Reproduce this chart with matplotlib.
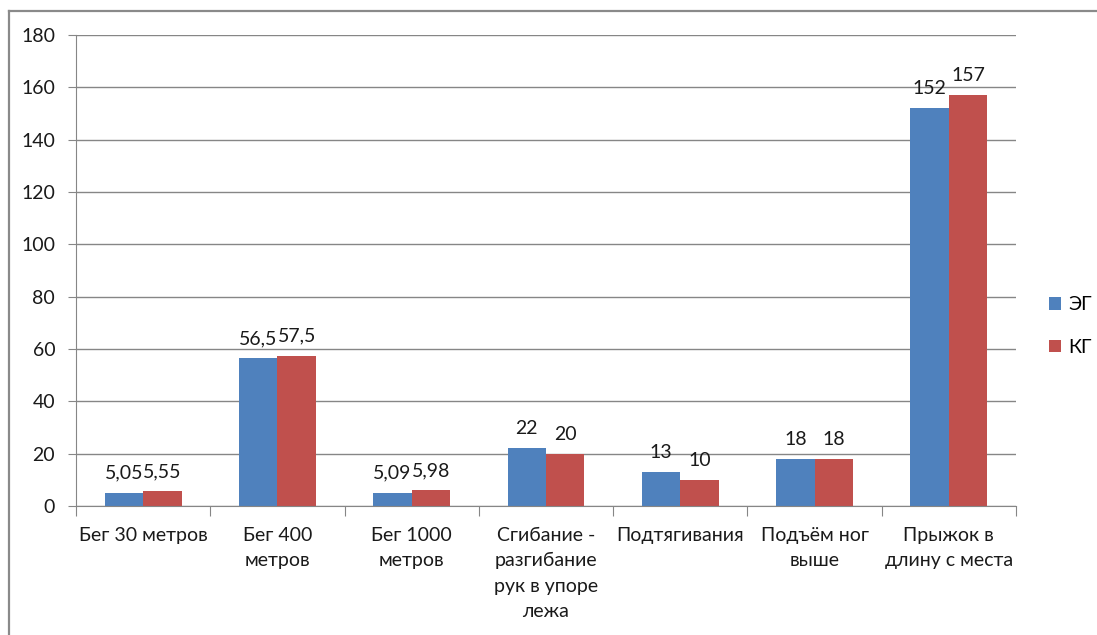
import matplotlib
matplotlib.use("Agg")
import matplotlib.pyplot as plt
from matplotlib.lines import Line2D
import numpy as np

plt.rcParams['font.family'] = ['Lato', 'DejaVu Sans']

categories = ["Бег 30 метров", "Бег 400\nметров", "Бег 1000\nметров",
              "Сгибание -\nразгибание\nрук в упоре\nлежа", "Подтягивания",
              "Подъём ног\nвыше", "Прыжок в\nдлину с места"]
eg = [5.05, 56.5, 5.09, 22, 13, 18, 152]
kg = [5.55, 57.5, 5.98, 20, 10, 18, 157]
eg_labels = ["5,05", "56,5", "5,09", "22", "13", "18", "152"]
kg_labels = ["5,55", "57,5", "5,98", "20", "10", "18", "157"]
series_names = ["ЭГ", "КГ"]
yticks = list(range(0, 181, 20))

blue = "#4F81BD"
red = "#C0504D"
grid_c = "#868686"
txt_c = "#1a1a1a"
fs = 14

fig = plt.figure(figsize=(10.97, 6.35), dpi=100)
ax = fig.add_axes([76/1097, 1-506/635, (1016-76)/1097, (506-35)/635])

x = np.arange(len(categories))
w = 0.286
b1 = ax.bar(x - w/2, eg, w, color=blue, label=series_names[0])
b2 = ax.bar(x + w/2, kg, w, color=red, label=series_names[1])

for rect, lab in zip(b1, eg_labels):
    ax.annotate(lab, (rect.get_x() + rect.get_width()/2, rect.get_height()),
                xytext=(0, 11), textcoords="offset pixels", ha="center", va="bottom",
                fontsize=fs, color=txt_c)
for rect, lab in zip(b2, kg_labels):
    ax.annotate(lab, (rect.get_x() + rect.get_width()/2, rect.get_height()),
                xytext=(0, 11), textcoords="offset pixels", ha="center", va="bottom",
                fontsize=fs, color=txt_c)

ax.set_xlim(-0.5, len(categories) - 0.5)
ax.set_ylim(0, 180)
ax.set_yticks(yticks)
ax.set_yticklabels([str(v) for v in yticks], fontsize=fs, color=txt_c)
ax.yaxis.grid(True, color=grid_c, linewidth=1)
ax.set_axisbelow(True)

ax.set_xticks(np.arange(-0.5, len(categories), 1.0))
ax.set_xticklabels([])
ax.set_xticks(x, minor=True)
ax.set_xticklabels(categories, minor=True, fontsize=fs, color=txt_c, linespacing=1.6)
ax.tick_params(axis="x", which="minor", length=0, pad=15)
ax.tick_params(axis="x", which="major", length=7, color=grid_c, direction="out")
ax.tick_params(axis="y", length=6, color=grid_c, pad=9)
for lbl in ax.get_xticklabels(minor=True):
    lbl.set_verticalalignment("top")
    lbl.set_horizontalalignment("center")

for s in ["top", "right"]:
    ax.spines[s].set_visible(False)
ax.spines["left"].set_color(grid_c)
ax.spines["bottom"].set_color(grid_c)

fig.legend(handles=[b1, b2], labels=series_names, loc="center left",
           bbox_to_anchor=(1049/1097, 1-326/635), frameon=False, fontsize=fs,
           borderpad=0, borderaxespad=0,
           handlelength=0.6, handleheight=0.6, handletextpad=0.4, labelspacing=1.3)

fig.add_artist(Line2D([9/1097, 9/1097], [0, 1-11/635], transform=fig.transFigure,
                      color="#8a8a8a", linewidth=1.6))
fig.add_artist(Line2D([9/1097, 1], [1-11/635, 1-11/635], transform=fig.transFigure,
                      color="#8a8a8a", linewidth=1.6))

fig.savefig("out.png", dpi=100)
